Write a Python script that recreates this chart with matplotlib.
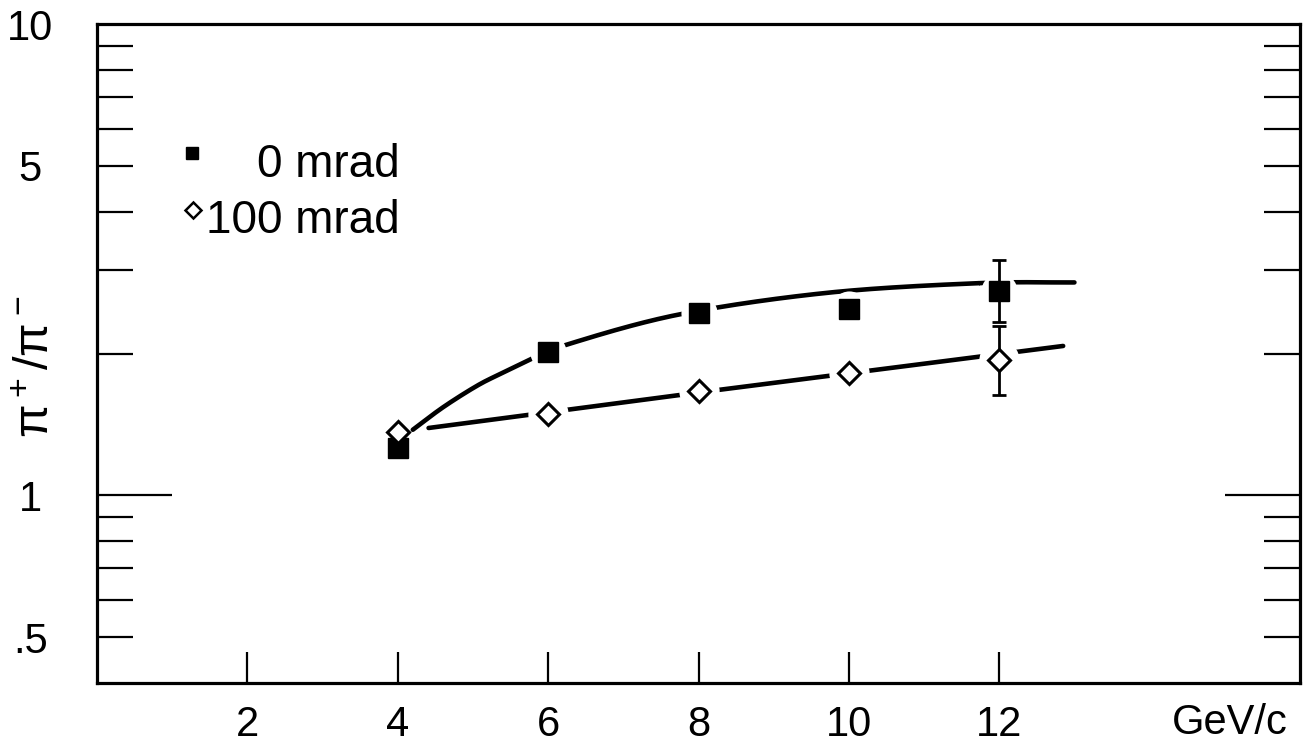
import numpy as np
import matplotlib
matplotlib.use("Agg")
import matplotlib.pyplot as plt

plt.rcParams['font.family'] = ['Liberation Sans', 'DejaVu Sans']
plt.rcParams['mathtext.default'] = 'regular'

# Momentum (GeV/c) and pi+/pi- ratio
momentum = [4, 6, 8, 10, 12]
ratio_0mrad = [1.26, 2.01, 2.44, 2.49, 2.71]
ratio_100mrad = [1.36, 1.49, 1.665, 1.815, 1.94]

# error bars on the 12 GeV/c points (lower, upper)
err_x = [12]
err_0mrad = ([2.71 - 2.33], [3.155 - 2.71])
err_100mrad = ([1.94 - 1.636], [2.283 - 1.94])

# hand-drawn guide curves (knots along each curve)
guide_0_x = [4.2, 4.61, 5.07, 5.41, 5.73, 6.2, 7.73, 9.71, 11.73, 13.0]
guide_0_y = [1.378, 1.541, 1.714, 1.824, 1.93, 2.077, 2.418, 2.69, 2.82, 2.83]
guide_100_x = [4.41, 8.24, 12.85]
guide_100_y = [1.39, 1.672, 2.075]

xticks = [2, 4, 6, 8, 10, 12]
yticks = [0.5, 1, 5, 10]
yticklabels = ['.5', '1', '5', '10']
yminor = [0.6, 0.7, 0.8, 0.9, 2, 3, 4, 6, 7, 8, 9]


def smooth_through(xs, ys, n=40):
    """Catmull-Rom curve through the knots, in (x, log y) space."""
    px = np.asarray(xs, float)
    py = np.log10(np.asarray(ys, float))
    px = np.concatenate([[2 * px[0] - px[1]], px, [2 * px[-1] - px[-2]]])
    py = np.concatenate([[2 * py[0] - py[1]], py, [2 * py[-1] - py[-2]]])
    out_x, out_y = [], []
    t = np.linspace(0, 1, n)
    for i in range(1, len(px) - 2):
        for arr, out in ((px, out_x), (py, out_y)):
            p0, p1, p2, p3 = arr[i - 1], arr[i], arr[i + 1], arr[i + 2]
            out.extend(0.5 * ((2 * p1) + (-p0 + p2) * t
                              + (2 * p0 - 5 * p1 + 4 * p2 - p3) * t ** 2
                              + (-p0 + 3 * p1 - 3 * p2 + p3) * t ** 3))
    return np.array(out_x), 10 ** np.array(out_y)


fig = plt.figure(figsize=(13.14, 7.56), dpi=100)
ax = fig.add_axes([97 / 1314, 1 - 683 / 756, 1203 / 1314, 659 / 756])
ax.set_yscale('log')
ax.set_xlim(0, 16)
ax.set_ylim(0.4, 10)

for s in ax.spines.values():
    s.set_linewidth(2.3)

lw_curve = 3.3
cx, cy = smooth_through(guide_0_x, guide_0_y)
ax.plot(cx, cy, color='black', lw=lw_curve, solid_capstyle='round', zorder=2)
ax.plot(guide_100_x, guide_100_y, color='black', lw=lw_curve, solid_capstyle='round', zorder=2)

# white halos break the curves around the markers
ax.plot(momentum[1:], ratio_0mrad[1:], 'o', ms=26, mfc='white', mec='none', zorder=3)
ax.plot(momentum[1:], ratio_100mrad[1:], 'o', ms=29, mfc='white', mec='none', zorder=3)

ax.errorbar(err_x, [ratio_0mrad[-1]], yerr=err_0mrad, fmt='none', ecolor='black',
            elinewidth=2.0, capsize=5, capthick=2.0, zorder=5)
ax.errorbar(err_x, [ratio_100mrad[-1]], yerr=err_100mrad, fmt='none', ecolor='black',
            elinewidth=2.0, capsize=5, capthick=2.0, zorder=5)

ax.plot(momentum, ratio_0mrad, 's', ms=14.5, mfc='black', mec='black', zorder=6)
ax.plot(momentum, ratio_100mrad, 'D', ms=11.5, mfc='white', mec='black', mew=2.2, zorder=7)

# ticks
ax.set_xticks(xticks)
ax.set_xticklabels([str(t) for t in xticks])
ax.set_yticks(yticks)
ax.set_yticklabels(yticklabels)
ax.set_yticks(yminor, minor=True)
ax.yaxis.set_minor_formatter(matplotlib.ticker.NullFormatter())
ax.tick_params(axis='x', which='both', direction='in', length=22, width=1.6,
               top=False, labelsize=30, pad=16)
ax.tick_params(axis='y', which='both', direction='in', length=26, width=1.6,
               left=True, right=True, labelsize=30, pad=48)
for lbl in ax.get_yticklabels():
    lbl.set_horizontalalignment('center')
for t, v in zip(ax.yaxis.get_major_ticks(), yticks):
    if v == 1:
        t.tick1line.set_markersize(54)
        t.tick2line.set_markersize(54)
    if v == 10:
        t.tick1line.set_visible(False)
        t.tick2line.set_visible(False)

ax.set_xlabel('GeV/c', fontsize=30)
ax.xaxis.set_label_coords(0.942, -0.03)
ax.xaxis.label.set_va('top')

ax.set_ylabel(r'$\pi^+/\pi^-$', fontsize=35)
ax.yaxis.set_label_coords(-0.050, 0.48)
ax.yaxis.label.set_va('center')

# key
ax.plot([0.0790], [0.805], 's', ms=8, mfc='black', mec='black', transform=ax.transAxes, clip_on=False)
ax.plot([0.0795], [0.717], 'D', ms=8.5, mfc='white', mec='black', mew=1.8, transform=ax.transAxes, clip_on=False)
ax.text(0.252, 0.768, '0 mrad', transform=ax.transAxes, ha='right', va='baseline', fontsize=33)
ax.text(0.252, 0.683, '100 mrad', transform=ax.transAxes, ha='right', va='baseline', fontsize=33)

fig.savefig('out.png', dpi=100, facecolor='white')
